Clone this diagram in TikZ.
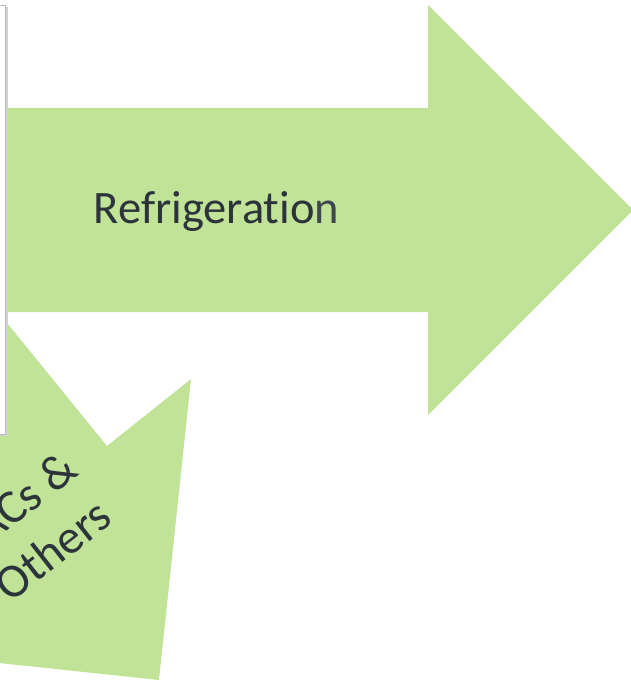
\documentclass[tikz,border=0pt]{standalone}
\usepackage{fontspec}
\setmainfont{Carlito}[Ligatures=NoCommon]
\definecolor{arrowgreen}{HTML}{C0E398}
\definecolor{txtdark}{HTML}{2D333B}
\definecolor{txtlight}{HTML}{3F4650}
\tikzset{
  greenarrow/.style={fill=arrowgreen, draw=none},
  labeltext/.style={text=txtdark, inner sep=0pt, font=\fontsize{46.5}{56}\selectfont},
  panel/.style={fill=white, draw=gray!55, line width=0.8pt},
  panelshadow/.style={fill=gray!35, draw=none}
}
\begin{document}
\begin{tikzpicture}[x=1pt,y=-1pt]
\useasboundingbox (0,0) rectangle (631,682);
\clip (0,0) rectangle (631,682);
% big arrow to the right
\path[greenarrow] (-10,108) -- (428,108) -- (428,5) -- (633,210) -- (428,415) -- (428,312) -- (-10,312) -- cycle;
% second (notched) arrow
\path[greenarrow] (107,446) -- (-10,302) -- (-10,662) -- (159,680) -- (191,379) -- cycle;
% white panel on the left
\path[panelshadow] (-30,7) rectangle (7.5,436);
\path[panel] (-30,5) rectangle (5.5,434);
% labels
\node[labeltext, anchor=base] (refr) at (216.5,223) {Refrigeratio{\color{txtlight}n}};
\node[labeltext, align=center, rotate=38, font=\fontsize{48}{58.5}\selectfont] (acs) at (34.6,526.7) {\hspace*{20pt}ACs \&\\Others};
\end{tikzpicture}
\end{document}
